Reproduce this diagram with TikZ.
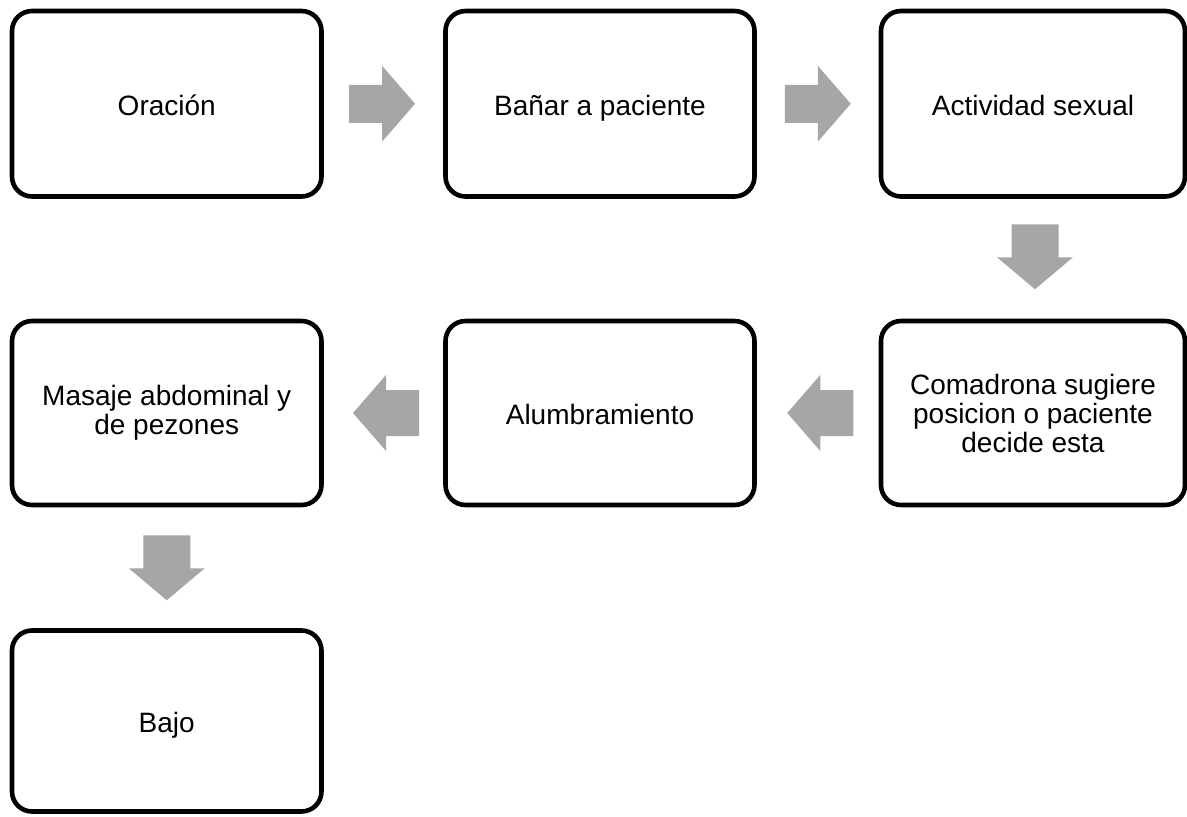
\documentclass[tikz,border=0pt]{standalone}
\usepackage{fontspec}
\setmainfont{Liberation Sans}
\usetikzlibrary{calc}
\definecolor{arrowgray}{HTML}{A6A6A6}
\newcommand\boxstrut{\rule[-6pt]{0pt}{34.6pt}}
\tikzset{
  stepbox/.style={draw=black, line width=4.6pt, rounded corners=20pt, fill=white,
    align=center, inner sep=0pt, font=\fontsize{28}{29}\selectfont},
  pics/rarr/.style={code={
    \fill[arrowgray] (-33,-19) -- (0,-19) -- (0,-38) -- (33,0) -- (0,38) -- (0,19) -- (-33,19) -- cycle;}},
  pics/larr/.style={code={
    \fill[arrowgray] (33,-23) -- (0,-23) -- (0,-38) -- (-33,0) -- (0,38) -- (0,23) -- (33,23) -- cycle;}},
  pics/darr/.style={code={
    \fill[arrowgray] (-23.5,-32.5) -- (23.5,-32.5) -- (23.5,0.5) -- (38,0.5) -- (0,32.5) -- (-38,0.5) -- (-23.5,0.5) -- cycle;}}
}
\begin{document}
\begin{tikzpicture}[x=1pt,y=-1pt]
\useasboundingbox (0,0) rectangle (1187,817);
\fill[white] (0,0) rectangle (1187,817);
% row 1
\node[stepbox, minimum width=309.5pt, minimum height=185.5pt] (A) at (166.75,103.75) {\boxstrut Oración};
\node[stepbox, minimum width=309pt, minimum height=185.5pt] (B) at (600,103.75) {\boxstrut Bañar a paciente};
\node[stepbox, minimum width=304pt, minimum height=185.5pt] (C) at (1033,103.75) {\boxstrut Actividad sexual};
% row 2
\node[stepbox, minimum width=304pt, minimum height=184pt] (D) at (1033,413) {Comadrona sugiere\\posicion o paciente\\decide esta};
\node[stepbox, minimum width=309pt, minimum height=184pt] (E) at (600,413) {\boxstrut Alumbramiento};
\node[stepbox, minimum width=309.5pt, minimum height=184pt] (F) at (166.75,413) {Masaje abdominal y\\de pezones};
% row 3
\node[stepbox, minimum width=309.5pt, minimum height=181pt] (G) at (166.75,721) {\boxstrut Bajo};
% block arrows between boxes
\pic at ($(A.east)!0.5!(B.west)+(-1.5,0)$) {rarr};
\pic at ($(B.east)!0.5!(C.west)$) {rarr};
\pic at ($(C.south)!0.5!(D.north)+(2,-2)$) {darr};
\pic at ($(D.west)!0.5!(E.east)+(2.5,0)$) {larr};
\pic at ($(E.west)!0.5!(F.east)+(2.5,0)$) {larr};
\pic at ($(F.south)!0.5!(G.north)+(0,0)$) {darr};
\end{tikzpicture}
\end{document}
